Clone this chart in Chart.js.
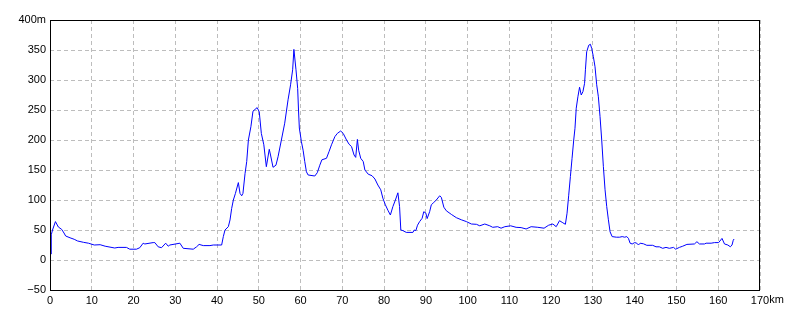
<!DOCTYPE html>
<html>
<head>
<meta charset="utf-8">
<script src="https://cdn.jsdelivr.net/npm/chart.js@4"></script>
<style>
html,body{margin:0;padding:0;background:#fff;}
#wrap{width:800px;height:320px;}
</style>
</head>
<body>
<div id="wrap"><canvas id="c" width="800" height="320"></canvas></div>
<script>
const distanceKm = [0,0.05,0.25,0.3,0.6,1.3,2.0,2.8,3.35,3.75,4.8,5.8,6.6,8.0,9.2,10.6,12.0,13.2,15.5,16.3,18.3,19.1,20.7,21.5,22.3,22.7,24.7,25.1,25.9,26.7,27.7,28.3,28.7,31.1,31.9,34.3,35.1,35.7,36.7,38.3,39.1,41.1,41.5,41.9,42.7,43.1,43.5,43.9,44.4,45.1,45.5,45.9,46.2,46.7,47.1,47.5,48.1,48.6,49.6,50.1,50.6,51.2,51.8,52.5,52.8,53.4,54.1,54.6,55.4,56.2,57.0,57.6,58.1,58.4,58.9,59.3,59.5,59.7,60.2,60.6,61.0,61.4,61.8,63.4,64.0,64.6,65.1,66.2,66.8,67.4,68.2,68.8,69.6,70.2,71.0,71.6,72.2,72.8,73.2,73.6,73.9,74.4,75.0,75.4,76.2,77.1,77.8,78.5,79.2,79.7,80.3,80.9,81.5,82.1,82.7,83.3,83.7,84.0,84.5,85.3,86.9,87.2,87.6,88.0,88.5,89.1,89.5,90.0,90.3,90.9,91.3,91.9,92.5,93.3,93.7,94.3,94.9,96.1,97.3,98.5,99.7,100.9,102.1,102.9,104.1,105.3,106.0,107.2,108.0,108.9,110.3,111.6,112.8,114.0,115.2,116.8,118.3,119.4,120.4,121.2,122.0,122.8,123.4,123.8,124.2,124.6,125.0,125.4,125.7,126.0,126.4,126.8,127.2,127.6,128.0,128.2,128.5,129.0,129.4,129.7,130.1,130.5,130.9,131.3,131.7,132.1,132.5,132.9,133.3,133.7,134.1,134.6,135.6,136.4,137.0,137.6,138.1,138.5,138.9,139.4,140.0,140.5,140.9,141.3,142.1,142.9,144.3,145.1,145.9,146.7,147.5,148.3,149.3,149.8,150.7,151.5,152.5,154.3,154.9,155.5,156.7,157.1,158.3,159.1,160.1,160.9,161.5,162.3,162.9,163.3,163.6,163.8];
const elevationM = [-22,10,10,42,50,64,55,51,45,40,37,34.5,31.7,29.5,28,25,25.5,23,20,21,21,18,18,20.5,28,26.7,29,29,22,20.5,28,23,25,28,19.5,18,22,26,24,24,25,25,39,50,55.5,66.7,86,100,111,129,111,107,111,144,164,200,222,248,254,247,211,192,155.5,184.5,175,154.5,158,172,200,228,267,292,317,351,317,286,250,220,197,183,164,147,141.7,140,145.5,158,167,169.5,180.5,192,205.5,211,215,211,200,193,189,175,171,201,183,169.5,164,150,143,140.5,135,125,117,103,92,83,75,89,100,112,89,50,49,46,46,50,49,58,64,69.5,80.5,78,69,80.5,92,96,100,107,104.5,88,82,76,70.5,67,64,60,59.5,57,60,57,54.5,55.5,53,55.5,57,54.5,54,51.7,55.5,54.5,53,58,60,55.5,65.5,62,59.5,78,108,139,169.5,200,219.5,253,272,288,275,280.5,294.5,317,347,358,359.5,352.5,339,322,292,272,239,200,155.5,117,89,67,47,39,38,38,39,38,39,36,28,26.7,29,28,25,28,27,24.5,24.5,22,22,19.5,21,19.5,21,18,21,23,26,26.7,30.5,26.7,26.7,28,28,29,29,36,26.7,25,22,25,33,35];
const xTicks = [0,10,20,30,40,50,60,70,80,90,100,110,120,130,140,150,160,170];
const yTicks = [-50,0,50,100,150,200,250,300,350,400];
const xUnit = 'km';
const yUnit = 'm';

const points = distanceKm.map((d, i) => ({x: d, y: elevationM[i]}));
const FONT = {family: '"Liberation Sans", Arial, sans-serif', size: 11};

const framePlugin = {
  id: 'frame',
  afterDraw(chart) {
    const {ctx, chartArea: a} = chart;
    ctx.save();
    ctx.strokeStyle = '#000';
    ctx.lineWidth = 1;
    ctx.strokeRect(Math.round(a.left) + 0.5, Math.round(a.top) + 0.5,
      Math.round(a.right - a.left) - 1, Math.round(a.bottom - a.top));
    // unit suffix after the last x tick label
    const xs = chart.scales.x;
    const last = xTicks[xTicks.length - 1];
    const px = xs.getPixelForValue(last);
    ctx.font = FONT.size + 'px ' + FONT.family;
    const w = ctx.measureText(String(last)).width;
    ctx.fillStyle = '#000';
    ctx.textAlign = 'left';
    ctx.textBaseline = 'top';
    ctx.fillText(xUnit, px + w / 2, a.bottom + 4);
    ctx.restore();
  }
};

new Chart(document.getElementById('c'), {
  type: 'line',
  data: {
    datasets: [{
      data: points,
      borderColor: '#0000ff',
      borderWidth: 1,
      pointRadius: 0,
      tension: 0,
      fill: false
    }]
  },
  options: {
    responsive: false,
    animation: false,
    parsing: true,
    layout: {padding: {left: 0, right: 40, top: 20, bottom: 0}},
    plugins: {legend: {display: false}, tooltip: {enabled: false}},
    scales: {
      x: {
        type: 'linear',
        min: xTicks[0],
        max: xTicks[xTicks.length - 1],
        afterFit(s) { s.height = 30; },
        afterBuildTicks(s) { s.ticks = xTicks.map(v => ({value: v})); },
        ticks: {
          color: '#000', font: FONT, padding: 4, maxRotation: 0, autoSkip: false,
          callback: v => String(v)
        },
        grid: {color: '#bdbdbd', drawTicks: false, lineWidth: 1},
        border: {display: false, dash: [4, 3]}
      },
      y: {
        type: 'linear',
        min: yTicks[0],
        max: yTicks[yTicks.length - 1],
        afterFit(s) { s.width = 50; },
        afterBuildTicks(s) { s.ticks = yTicks.map(v => ({value: v})); },
        ticks: {
          color: '#000', font: FONT, padding: 4, autoSkip: false,
          callback: v => v === yTicks[yTicks.length - 1] ? v + yUnit : String(v).replace('-', '\u2212')
        },
        grid: {color: '#bdbdbd', drawTicks: false, lineWidth: 1},
        border: {display: false, dash: [4, 3]}
      }
    }
  },
  plugins: [framePlugin]
});
</script>
</body>
</html>
